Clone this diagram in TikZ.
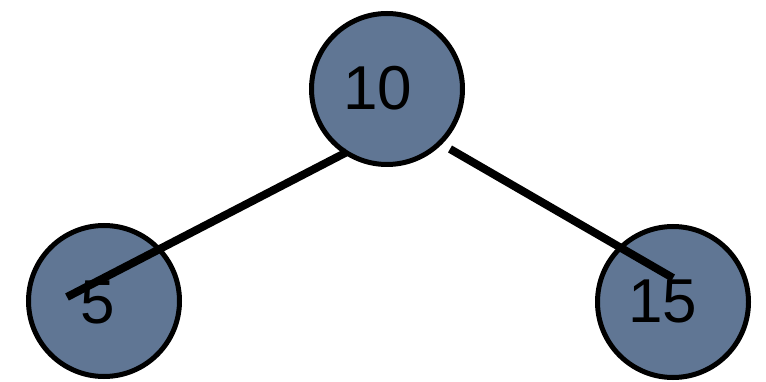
\documentclass[tikz,border=0pt]{standalone}
\usepackage{fontspec}
\setmainfont{Liberation Sans}
\definecolor{denim}{RGB}{96,118,148}
\begin{document}
\begin{tikzpicture}[x=1pt,y=-1pt,
  treenode/.style={circle,draw=black,line width=5pt,fill=denim,minimum size=151pt,inner sep=0pt},
  lbl/.style={inner sep=0pt,font=\fontsize{62}{62}\selectfont},
  edge/.style={line width=8pt,line cap=butt}]
\useasboundingbox (0,0) rectangle (766,382);
\node[treenode] (n10) at (387,89) {};
\node[treenode] (n5) at (104,301) {};
\node[treenode] (n15) at (673,302) {};
\node[lbl] (t10) at (378,88) {10};
\node[lbl] (t5) at (98,302) {5};
\node[lbl] (t15) at (663,301) {15};
\coordinate (a1) at (347,152);
\coordinate (a2) at (67,297);
\coordinate (b1) at (450,149);
\coordinate (b2) at (673,278);
\draw[edge] (a1) -- (a2);
\draw[edge] (b1) -- (b2);
\end{tikzpicture}
\end{document}
